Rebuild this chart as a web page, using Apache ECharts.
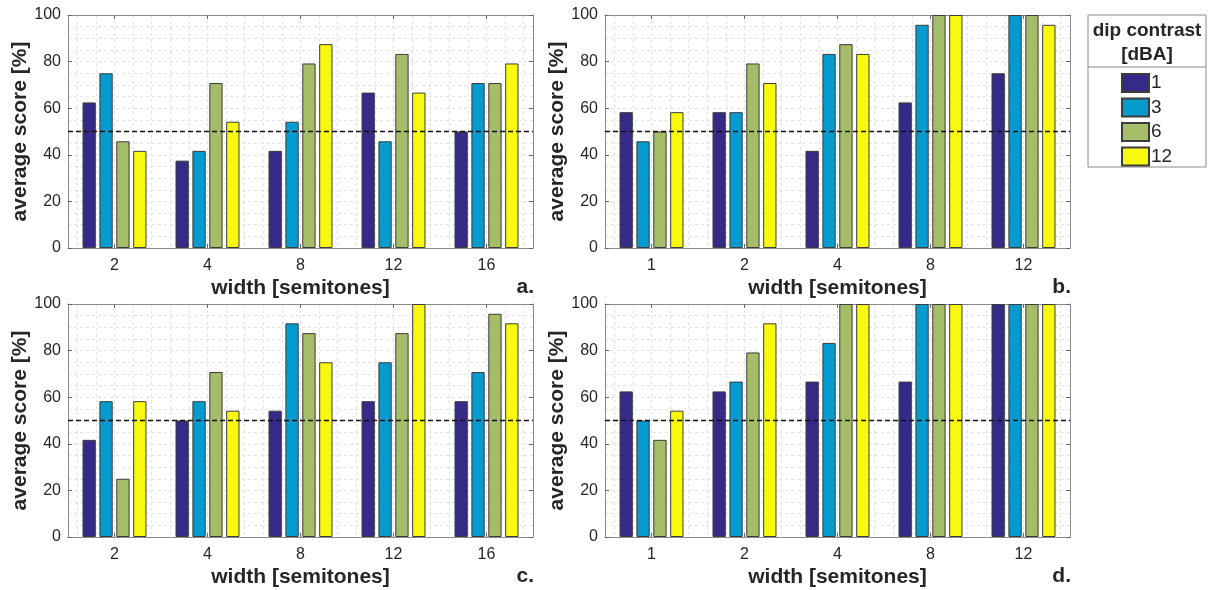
<!DOCTYPE html>
<html>
<head>
<meta charset="utf-8">
<script src="https://cdn.jsdelivr.net/npm/echarts@6/dist/echarts.min.js"></script>
<style>
html,body{margin:0;padding:0;background:#fff;}
#chart{width:1213px;height:590px;}
</style>
</head>
<body>
<div id="chart"></div>
<script>
// ---- data ----
const widthsAC = ['2', '4', '8', '12', '16'];
const widthsBD = ['1', '2', '4', '8', '12'];
const contrasts = ['1', '3', '6', '12'];
const panelLabels = ['a.', 'b.', 'c.', 'd.'];
const yTicks = [0, 20, 40, 60, 80, 100];
const chanceLevel = 50;

const a1 = [62.5, 37.5, 41.7, 66.7, 50.0];
const a3 = [75.0, 41.7, 54.2, 45.8, 70.8];
const a6 = [45.8, 70.8, 79.2, 83.3, 70.8];
const a12 = [41.7, 54.2, 87.5, 66.7, 79.2];

const b1 = [58.3, 58.3, 41.7, 62.5, 75.0];
const b3 = [45.8, 58.3, 83.3, 95.8, 100];
const b6 = [50.0, 79.2, 87.5, 100, 100];
const b12 = [58.3, 70.8, 83.3, 100, 95.8];

const c1 = [41.7, 50.0, 54.2, 58.3, 58.3];
const c3 = [58.3, 58.3, 91.7, 75.0, 70.8];
const c6 = [25.0, 70.8, 87.5, 87.5, 95.8];
const c12 = [58.3, 54.2, 75.0, 100, 91.7];

const d1 = [62.5, 62.5, 66.7, 66.7, 100];
const d3 = [50.0, 66.7, 83.3, 100, 100];
const d6 = [41.7, 79.2, 100, 100, 100];
const d12 = [54.2, 91.7, 100, 100, 100];

// ---- styling / layout ----
const FONT = "'Liberation Sans', Arial, Helvetica, sans-serif";
const TXT = '#262626';
const BOX = '#8a8a8a';
const GRIDC = '#e4e4e4';
const colors = ['#352a87', '#069bce', '#a5bd68', '#f8f90e'];

const panels = [
  {cats: widthsAC, data: [a1, a3, a6, a12], left: 68, top: 15},
  {cats: widthsBD, data: [b1, b3, b6, b12], left: 605, top: 15},
  {cats: widthsAC, data: [c1, c3, c6, c12], left: 68, top: 304},
  {cats: widthsBD, data: [d1, d3, d6, d12], left: 605, top: 304}
];
const PW = 465, PH = 233;

const grid = [], xAxis = [], yAxis = [], series = [], title = [];
panels.forEach((p, gi) => {
  grid.push({left: p.left, top: p.top, width: PW, height: PH, containLabel: false});
  // hidden value axis for the vertical minor grid (0.2 category steps)
  xAxis.push({
    type: 'value', gridIndex: gi, position: 'bottom', min: 0, max: 10 * p.cats.length, interval: 2,
    axisLine: {show: false}, axisTick: {show: false}, axisLabel: {show: false},
    splitLine: {show: false},
    minorTick: {show: false, splitNumber: 2},
    minorSplitLine: {show: true, lineStyle: {color: GRIDC, type: [3, 3], width: 1}},
    z: 0
  });
  // bottom category axis (labels + name)
  const xb = xAxis.length;
  xAxis.push({
    type: 'category', gridIndex: gi, position: 'bottom', data: p.cats,
    boundaryGap: true,
    axisLine: {show: true, lineStyle: {color: BOX, width: 1}},
    axisTick: {show: true, inside: true, alignWithLabel: true, length: 4, lineStyle: {color: '#666'}},
    axisLabel: {color: TXT, fontSize: 16, fontFamily: FONT, margin: 10},
    splitLine: {show: false},
    name: 'width [semitones]', nameLocation: 'middle', nameGap: 30,
    nameTextStyle: {color: TXT, fontSize: 21, fontWeight: 'bold', fontFamily: FONT}
  });
  // top category axis (box + ticks)
  xAxis.push({
    type: 'category', gridIndex: gi, position: 'top', data: p.cats,
    boundaryGap: true,
    axisLine: {show: true, lineStyle: {color: BOX, width: 1}},
    axisTick: {show: true, inside: true, alignWithLabel: true, length: 4, lineStyle: {color: '#666'}},
    axisLabel: {show: false}, splitLine: {show: false}
  });
  const yl = yAxis.length;
  yAxis.push({
    type: 'value', gridIndex: gi, position: 'left', min: 0, max: 100, interval: 20,
    axisLine: {show: true, lineStyle: {color: BOX, width: 1}},
    axisTick: {show: true, inside: true, length: 4, lineStyle: {color: '#666'}},
    axisLabel: {color: TXT, fontSize: 16, fontFamily: FONT, margin: 7,
      formatter: v => (yTicks.indexOf(v) >= 0 ? String(v) : '')},
    splitLine: {show: true, lineStyle: {color: GRIDC, type: [3, 3], width: 1}},
    minorTick: {show: false, splitNumber: 4},
    minorSplitLine: {show: true, lineStyle: {color: GRIDC, type: [3, 3], width: 1}},
    name: 'average score [%]', nameLocation: 'middle', nameGap: 37, nameRotate: 90,
    nameTextStyle: {color: TXT, fontSize: 21, fontWeight: 'bold', fontFamily: FONT}
  });
  yAxis.push({
    type: 'value', gridIndex: gi, position: 'right', min: 0, max: 100, interval: 20,
    axisLine: {show: true, lineStyle: {color: BOX, width: 1}},
    axisTick: {show: true, inside: true, length: 4, lineStyle: {color: '#666'}},
    axisLabel: {show: false}, splitLine: {show: false}
  });
  p.data.forEach((vals, si) => {
    const s = {
      type: 'bar', name: contrasts[si], xAxisIndex: xb, yAxisIndex: yl,
      data: vals, barWidth: 13.3, barGap: '27%',
      itemStyle: {color: colors[si], borderColor: '#3c3c3c', borderWidth: 1},
      emphasis: {disabled: true}, z: 3
    };
    if (si === 0) {
      s.markLine = {
        silent: true, symbol: 'none', label: {show: false},
        lineStyle: {color: '#111', type: [5, 3], width: 1.3},
        data: [{yAxis: chanceLevel}], z: 6
      };
    }
    series.push(s);
  });
  title.push({
    text: panelLabels[gi], right: 1213 - (p.left + PW) - 1, top: p.top + PH + 29,
    textStyle: {color: TXT, fontSize: 21, fontWeight: 'bold', fontFamily: FONT}, padding: 0
  });
});

const option = {
  animation: false,
  backgroundColor: '#fff',
  title: title,
  grid: grid, xAxis: xAxis, yAxis: yAxis, series: series,
  legend: {
    data: contrasts, orient: 'vertical', left: 1121, top: 73,
    itemWidth: 27, itemHeight: 18, itemGap: 4.5, padding: 0,
    icon: 'rect', selectedMode: false,
    textStyle: {color: TXT, fontSize: 19, lineHeight: 18, fontFamily: FONT, padding: [0, 0, 0, -3]}
  },
  graphic: [
    {type: 'rect', shape: {x: 1088, y: 15, width: 118, height: 152},
     style: {fill: '#fff', stroke: BOX, lineWidth: 1}, z: -1, silent: true},
    {type: 'line', shape: {x1: 1088, y1: 67, x2: 1206, y2: 67},
     style: {stroke: BOX, lineWidth: 1}, silent: true},
    {type: 'text', x: 1147, y: 31,
     style: {text: 'dip contrast', fill: TXT, font: "bold 19px 'Liberation Sans', Arial, sans-serif",
       textAlign: 'center', textVerticalAlign: 'middle'}, silent: true},
    {type: 'text', x: 1147, y: 55,
     style: {text: '[dBA]', fill: TXT, font: "bold 19px 'Liberation Sans', Arial, sans-serif",
       textAlign: 'center', textVerticalAlign: 'middle'}, silent: true}
  ]
};

const chart = echarts.init(document.getElementById('chart'), null, {renderer: 'canvas'});
chart.setOption(option);
</script>
</body>
</html>
